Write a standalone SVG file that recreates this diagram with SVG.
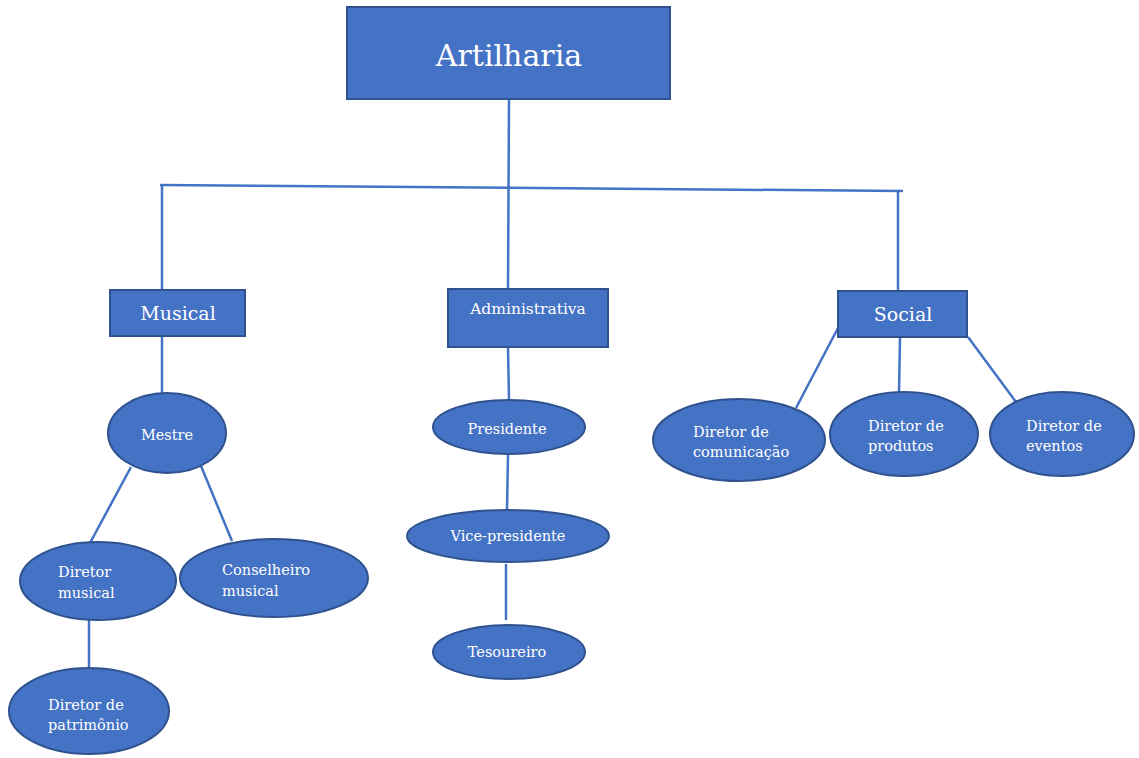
<svg xmlns="http://www.w3.org/2000/svg" width="1139" height="758" viewBox="0 0 1139 758">
<style>
.n{fill:#4472C4;stroke:#2F528F;stroke-width:2}
.t{fill:#fff;font-family:"DejaVu Serif","Liberation Serif",serif;font-size:14.5px}
.c{text-anchor:middle}
.big{font-size:30px}
.mid{font-size:19px}
.adm{font-size:15.5px}
#connectors line{stroke:#4472C4;stroke-width:2.5;fill:none}
</style>
<rect width="1139" height="758" fill="#fff"/>
<g id="connectors">
<line x1="509" y1="99" x2="508" y2="289"/>
<line x1="160" y1="185" x2="903" y2="191"/>
<line x1="162" y1="185" x2="162" y2="290"/>
<line x1="898" y1="191" x2="898" y2="291"/>
<line x1="162" y1="336" x2="162" y2="394"/>
<line x1="131" y1="467" x2="90" y2="543"/>
<line x1="201" y1="466" x2="232" y2="541"/>
<line x1="89" y1="620" x2="89" y2="668"/>
<line x1="508" y1="347" x2="509" y2="400"/>
<line x1="508" y1="454" x2="507" y2="510"/>
<line x1="506" y1="564" x2="506" y2="620"/>
<line x1="838" y1="328" x2="796" y2="408"/>
<line x1="900" y1="337" x2="899" y2="393"/>
<line x1="968" y1="337" x2="1016" y2="402"/>
</g>
<g id="artilharia"><rect class="n" x="347" y="7" width="323" height="92"/><text class="t c big" x="509" y="66">Artilharia</text></g>
<g id="musical"><rect class="n" x="110" y="290" width="135" height="46"/><text class="t c mid" x="178" y="320">Musical</text></g>
<g id="administrativa"><rect class="n" x="448" y="289" width="160" height="58"/><text class="t c adm" x="528" y="314">Administrativa</text></g>
<g id="social"><rect class="n" x="838" y="291" width="129" height="46"/><text class="t c mid" x="903" y="321">Social</text></g>
<g id="mestre"><ellipse class="n" cx="167" cy="433" rx="59" ry="40"/><text class="t c" x="167" y="440">Mestre</text></g>
<g id="diretor-musical"><ellipse class="n" cx="98" cy="581" rx="78" ry="39"/><text class="t" x="58" y="577">Diretor</text><text class="t" x="58" y="598">musical</text></g>
<g id="conselheiro-musical"><ellipse class="n" cx="274" cy="578" rx="94" ry="39"/><text class="t" x="222" y="575">Conselheiro</text><text class="t" x="222" y="596">musical</text></g>
<g id="diretor-patrimonio"><ellipse class="n" cx="89" cy="711" rx="80" ry="43"/><text class="t" x="48" y="710">Diretor de</text><text class="t" x="48" y="730">patrimônio</text></g>
<g id="presidente"><ellipse class="n" cx="509" cy="427" rx="76" ry="27"/><text class="t c" x="507" y="434">Presidente</text></g>
<g id="vice-presidente"><ellipse class="n" cx="508" cy="536" rx="101" ry="26"/><text class="t c" x="508" y="541">Vice-presidente</text></g>
<g id="tesoureiro"><ellipse class="n" cx="509" cy="652" rx="76" ry="27"/><text class="t c" x="507" y="657">Tesoureiro</text></g>
<g id="diretor-comunicacao"><ellipse class="n" cx="739" cy="440" rx="86" ry="41"/><text class="t" x="693" y="437">Diretor de</text><text class="t" x="693" y="457">comunicação</text></g>
<g id="diretor-produtos"><ellipse class="n" cx="904" cy="434" rx="74" ry="42"/><text class="t" x="868" y="431">Diretor de</text><text class="t" x="868" y="451">produtos</text></g>
<g id="diretor-eventos"><ellipse class="n" cx="1062" cy="434" rx="72" ry="42"/><text class="t" x="1026" y="431">Diretor de</text><text class="t" x="1026" y="451">eventos</text></g>
</svg>
